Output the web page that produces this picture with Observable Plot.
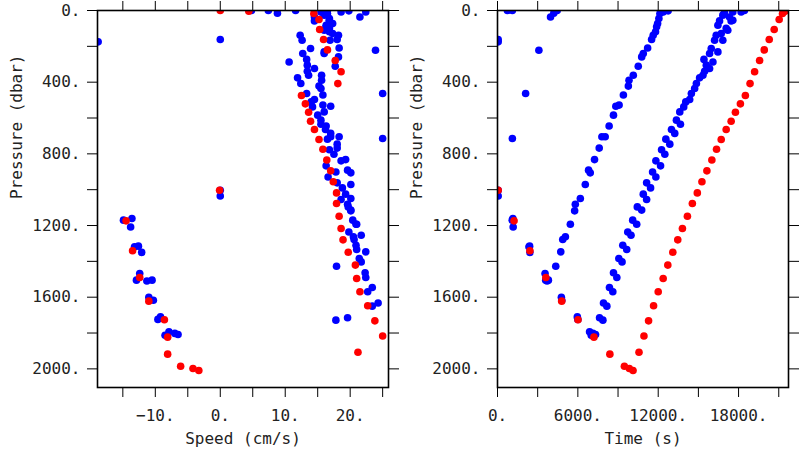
<!DOCTYPE html>
<html>
<head>
<meta charset="utf-8">
<script src="https://cdn.jsdelivr.net/npm/d3@7"></script>
<script src="https://cdn.jsdelivr.net/npm/@observablehq/plot@0.6"></script>
<style>
  html, body { margin: 0; padding: 0; background: #fff; }
  #wrap { width: 800px; height: 450px; display: flex; }
  #wrap > div { width: 400px; height: 450px; }
</style>
</head>
<body>
<div id="wrap"><div id="left"></div><div id="right"></div></div>
<script>
// ---- Red profile (one descent + ascent) ----
const redTime = [50,1235,2420,3610,4795,6010,7200,8390,9475,9845,10120,
  10565,10935,11280,11655,12000,12370,12717,13090,13460,13808,14180,14550,14920,15265,15635,
  16006,16355,16703,17075,17446,17765,18137,18508,18857,19198,19570,19918,20290,20660,21032,21280,21460,21520];
const redPressure = [1003,1174,1341,1490,1622,1726,1823,1918,1985,1998,2009,
  1907,1817,1732,1648,1570,1496,1421,1349,1280,1217,1148,1077,1018,956,895,
  834,774,720,664,618,568,521,474,408,342,279,220,162,106,50,17,4,0];
const redSpeed = [-0.1,-14.5,-13.5,-12.4,-11.0,-8.6,-8.1,-8.1,-6.1,-4.2,-3.3,
  21.2,25.0,23.8,22.7,21.5,21.0,20.8,19.7,18.9,18.6,18.3,17.9,17.9,17.4,17.0,
  16.4,15.8,15.2,14.5,13.9,13.6,13.1,12.5,18.1,18.6,17.7,16.5,15.9,15.3,15.2,14.4,4.4,0];

// ---- Blue profiles ----
const blueTime = [
  // surface / outliers
  50,50,3090,2100,1110,50,50,740,1110,3960,4200,4455,
  // descent
  1100,1150,1170,2350,2400,2420,3550,3600,3700,3800,4770,4800,5960,6000,6875,7000,7125,7320,
  // ascent 1
  4350,4725,4870,5070,5440,5760,5810,6185,6555,6800,6925,7245,7595,7795,8040,8335,8660,8835,9080,
  9400,9770,9820,10140,10510,10765,10885,11210,11505,11625,11800,11880,11955,12050,12125,12370,12740,
  // ascent 2
  7620,7870,7915,8165,8360,8610,8660,8910,9060,9300,9355,9650,9725,9970,10095,10395,10440,10765,
  10885,11135,11135,11430,11580,11825,11825,12175,12250,12495,12570,12865,12990,13235,13360,13660,
  13610,13905,14055,14350,14475,14720,14850,15090,15340,15465,15590,15835,15415,16085,15835,15960,
  16455,16210,16825,16330,16705,16455,17075,17195,16580,17445,16825,17320,17570,16950,17570,18190,18435];
const bluePressure = [
  175,162,222,463,714,1003,1035,0,0,36,15,0,
  1170,1161,1208,1319,1315,1350,1468,1505,1510,1505,1601,1617,1710,1724,1793,1812,1802,1808,
  1427,1347,1278,1263,1193,1118,1081,1049,971,891,906,832,768,705,705,645,584,534,528,
  472,422,389,361,311,259,240,209,162,138,119,91,73,45,17,8,2,
  1715,1728,1632,1650,1546,1570,1464,1490,1384,1403,1310,1334,1236,1254,1170,1193,1096,1114,
  1025,1055,962,990,901,929,839,867,777,802,718,746,664,686,612,635,
  566,538,510,497,463,435,407,376,361,339,305,324,273,287,240,212,
  231,166,166,138,129,82,100,110,58,58,26,36,54,8,8,8,0];
const blueSpeed = [
  -18.8,0,23.9,25.0,25.0,0,0,4.8,7.4,14.5,8.8,11.6,
  -14.9,-13.6,-13.8,-13.2,-12.6,-12.1,-12.4,-12.9,-11.3,-10.5,-11.0,-10.3,-9.2,-9.6,-7.9,-8.5,-7.0,-6.5,
  17.9,22.4,20.6,20.5,20.9,20.1,19.6,20.1,20.1,19.6,20.1,19.3,18.0,18.3,17.0,16.3,15.0,17.0,15.8,
  15.8,15.2,15.6,15.6,17.7,18.2,16.0,18.3,18.0,18.2,16.8,16.3,17.3,16.8,16.5,18.6,19.8,
  19.6,17.8,24.3,23.4,23.4,22.7,22.3,22.4,21.4,21.7,20.9,21.0,19.8,21.7,20.4,21.0,19.7,20.1,
  19.3,18.6,18.0,18.8,17.8,16.6,18.6,16.3,16.8,17.5,16.5,18.0,16.2,17.0,15.5,15.5,
  16.0,14.2,14.0,14.5,13.3,15.5,12.4,11.9,13.6,13.4,13.4,14.5,13.3,10.6,12.7,13.9,
  16.0,12.6,16.9,12.3,17.3,16.3,16.8,16.0,14.5,16.8,16.0,21.5,16.8,15.5,16.0,22.4,16.5];

// ---- Axes ----
const speedTicks = [-15,-10,-5,0,5,10,15,20,25];
const speedLabels = [-10,0,10,20];
const timeTicks = [0,3000,6000,9000,12000,15000,18000,21000];
const timeLabels = [0,6000,12000,18000];
const pressureTicks = [0,200,400,600,800,1000,1200,1400,1600,1800,2000];
const pressureLabels = [0,400,800,1200,1600,2000];

const red = redTime.map((t, i) => ({time: t, pressure: redPressure[i], speed: redSpeed[i]}));
const blue = blueTime.map((t, i) => ({time: t, pressure: bluePressure[i], speed: blueSpeed[i]}));

const fmt = labels => d => labels.includes(d) ? (d < 0 ? "\u2212" + (-d) : String(d)) + "." : "";

function panel(xKey, xDomain, xTicks, xLabels, xTitle) {
  return Plot.plot({
    width: 400,
    height: 450,
    marginLeft: 97,
    marginRight: 12,
    marginTop: 10,
    marginBottom: 63,
    style: {fontFamily: "'DejaVu Sans Mono'", fontSize: "16px", color: "#222", background: "#fff"},
    x: {domain: xDomain},
    y: {domain: [0, 2104], reverse: true},
    marks: [
      Plot.dot(blue, {x: xKey, y: "pressure", r: 3.8, fill: "#0000ff", clip: true}),
      Plot.dot(red, {x: xKey, y: "pressure", r: 3.8, fill: "#ff0000", clip: true}),
      Plot.axisX({anchor: "bottom", ticks: xTicks, tickFormat: fmt(xLabels), tickSize: 10, tickPadding: 12, label: null, stroke: "#000"}),
      Plot.axisX({anchor: "top", ticks: xTicks, tickFormat: () => "", tickSize: 10, label: null, stroke: "#000"}),
      Plot.axisY({anchor: "left", ticks: pressureTicks, tickFormat: fmt(pressureLabels), tickSize: 10, tickPadding: 7, label: null, stroke: "#000"}),
      Plot.axisY({anchor: "right", ticks: pressureTicks, tickFormat: () => "", tickSize: 10, label: null, stroke: "#000"}),
      Plot.frame({stroke: "#000", strokeWidth: 1.6}),
      Plot.text([xTitle], {frameAnchor: "bottom", lineAnchor: "middle", dy: 51, fontSize: 16, fill: "#222"}),
      Plot.text(["Pressure (dbar)"], {frameAnchor: "left", dx: -81, rotate: -90, fontSize: 16, fill: "#222"})
    ]
  });
}

document.getElementById("left").append(panel("speed", [-18.9, 25.9], speedTicks, speedLabels, "Speed (cm/s)"));
document.getElementById("right").append(panel("time", [0, 21728], timeTicks, timeLabels, "Time (s)"));
</script>
</body>
</html>
